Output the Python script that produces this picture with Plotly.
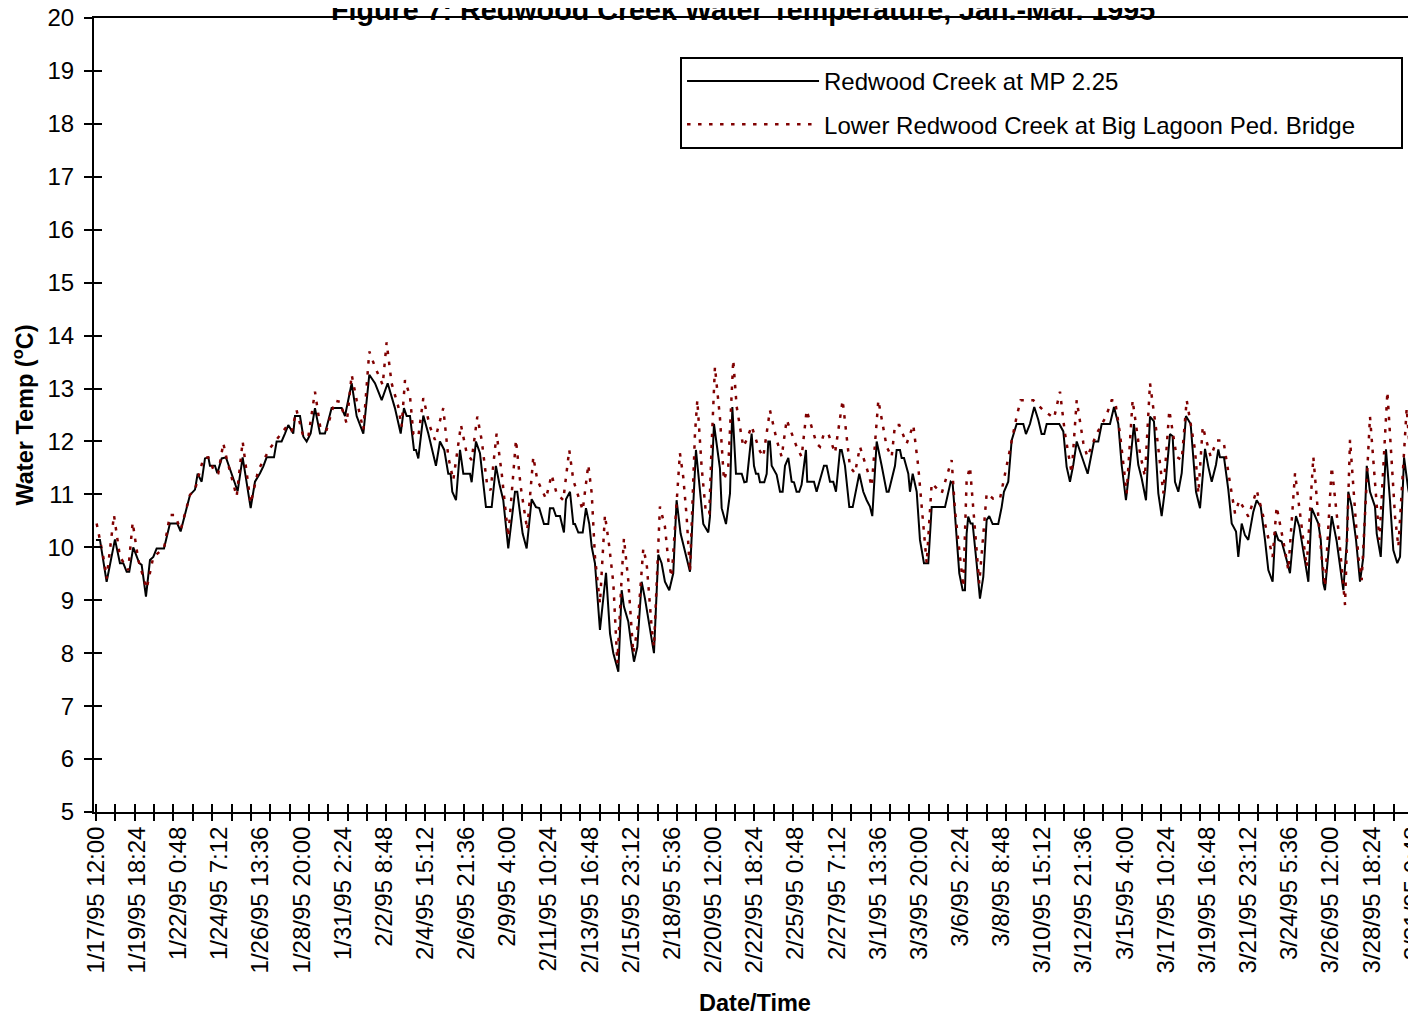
import pandas as pd
import plotly.graph_objects as go

START = pd.Timestamp("1995-01-17 12:00")

# Redwood Creek at MP 2.25 : elapsed hours since START, temperature (deg C)
mp_hours = [0, 5.3, 14.1, 25.1, 31.7, 36.1, 40.6, 44.0, 49.3, 57.2, 60.4, 66.1, 71.4, 75.8, 80.2, 89.9, 97.8, 107.5, 111.9, 124.3,
            130.9, 134.4, 139.7, 144.1, 148.5, 150.7, 157.3, 160.4, 166.2, 171.8, 187.3, 193.9, 204.5, 210.2, 216.8, 221.2, 225.6, 235.3, 238.8, 245.4,
            249.8, 254.2, 260.8, 263.1, 269.7, 274.1, 278.5, 283.8, 289.5, 296.1, 302.7, 311.5, 324.8, 329.2, 338.0, 344.6, 353.4, 361.3, 368.8, 377.7,
            385.6, 395.2, 402.8, 407.1, 410.7, 415.1, 420.4, 423.0, 426.1, 432.7, 439.3, 449.4, 454.7, 460.4, 465.7, 468.8, 471.0, 475.9, 481.2, 485.6,
            494.4, 496.6, 502.3, 507.6, 515.5, 523.1, 528.7, 533.1, 538.4, 545.0, 553.9, 556.9, 564.0, 569.3, 575.9, 581.6, 586.0, 589.2, 592.2, 597.9,
            600.1, 604.5, 608.1, 613.4, 618.6, 621.3, 626.6, 631.0, 633.2, 637.6, 643.4, 647.7, 652.1, 655.3, 659.6, 666.2, 674.2, 679.5, 683.9, 690.5,
            694.9, 697.9, 703.6, 706.8, 711.2, 715.6, 721.3, 725.7, 732.3, 737.6, 743.3, 747.7, 752.1, 757.8, 763.1, 767.5, 772.8, 779.9, 785.2, 793.1,
            798.4, 802.8, 809.4, 811.6, 816.9, 824.8, 827.1, 832.8, 838.1, 841.2, 846.0, 853.6, 857.0, 860.1, 866.7, 869.8, 872.4, 875.5, 877.7, 883.4,
            886.6, 888.7, 890.9, 893.2, 899.8, 904.2, 907.7, 910.8, 915.2, 919.6, 922.7, 926.1, 929.6, 932.7, 938.5, 940.2, 949.1, 952.6, 962.3, 965.9,
            970.3, 974.6, 978.2, 983.5, 985.7, 990.1, 995.8, 1000.3, 1009.0, 1014.3, 1018.8, 1023.1, 1026.2, 1032.0, 1038.6, 1045.2, 1047.8, 1056.2, 1058.4, 1062.8,
            1065.0, 1068.1, 1073.8, 1076.0, 1079.6, 1084.9, 1089.2, 1094.5, 1100.2, 1104.7, 1122.3, 1126.6, 1129.8, 1132.4, 1137.7, 1141.2, 1145.7, 1148.7, 1150.9, 1153.0,
            1156.2, 1158.8, 1164.1, 1168.5, 1172.9, 1177.4, 1180.8, 1185.3, 1192.7, 1197.2, 1200.2, 1205.9, 1210.4, 1217.0, 1221.4, 1225.8, 1229.3, 1234.6, 1240.3, 1245.6,
            1250.0, 1253.6, 1256.7, 1273.4, 1278.7, 1283.1, 1287.5, 1291.9, 1296.4, 1303.0, 1310.9, 1319.2, 1324.9, 1329.4, 1340.4, 1345.7, 1351.4, 1355.8, 1361.5, 1366.8,
            1372.1, 1377.8, 1382.3, 1388.0, 1393.3, 1398.5, 1404.3, 1408.7, 1413.1, 1419.7, 1423.2, 1426.3, 1430.7, 1435.2, 1440.8, 1447.0, 1454.1, 1459.4, 1466.0, 1470.4,
            1474.9, 1480.5, 1483.6, 1485.8, 1491.1, 1496.8, 1501.3, 1507.0, 1510.0, 1514.5, 1518.8, 1523.2, 1529.8, 1534.3, 1539.6, 1545.3, 1549.7, 1555.4, 1558.9, 1562.9,
            1567.3, 1573.9, 1578.3, 1582.7, 1586.3, 1590.7, 1596.0, 1602.6, 1607.0, 1615.8, 1619.0, 1622.4, 1624.6, 1629.0, 1633.5, 1640.1, 1644.4, 1648.8, 1653.3, 1655.4,
            1659.9, 1665.6, 1670.9, 1675.3, 1679.8, 1684.1, 1690.7, 1693.0, 1698.3, 1701.7, 1705.2, 1710.5, 1714.9, 1720.2, 1723.8, 1729.1, 1734.7, 1739.2, 1744.9]
mp_temp = [10.14, 10.14, 9.35, 10.15, 9.70, 9.70, 9.54, 9.54, 10.0, 9.70, 9.67, 9.07, 9.76, 9.82, 9.98, 9.98, 10.45, 10.45, 10.30, 10.99,
           11.09, 11.39, 11.24, 11.68, 11.70, 11.54, 11.54, 11.40, 11.68, 11.70, 11.06, 11.70, 10.74, 11.24, 11.40, 11.53, 11.70, 11.70, 12.0, 12.0,
           12.15, 12.31, 12.15, 12.48, 12.48, 12.09, 12.0, 12.15, 12.63, 12.15, 12.15, 12.63, 12.63, 12.48, 13.10, 12.48, 12.15, 13.26, 13.10, 12.78,
           13.10, 12.63, 12.15, 12.63, 12.48, 12.48, 11.84, 11.84, 11.68, 12.49, 12.15, 11.54, 12.0, 11.84, 11.39, 11.39, 11.05, 10.89, 11.84, 11.39,
           11.39, 11.23, 12.0, 11.78, 10.76, 10.76, 11.54, 11.21, 10.89, 9.98, 11.05, 11.05, 10.26, 9.98, 10.91, 10.76, 10.74, 10.59, 10.44, 10.44,
           10.74, 10.74, 10.59, 10.59, 10.28, 10.91, 11.05, 10.44, 10.44, 10.28, 10.28, 10.74, 10.44, 10.01, 9.70, 8.44, 9.52, 8.37, 8.00, 7.65,
           9.19, 8.88, 8.60, 8.25, 7.84, 8.12, 9.35, 9.03, 8.44, 8.00, 9.86, 9.70, 9.35, 9.19, 9.51, 10.89, 10.26, 9.82, 9.54, 11.84,
           11.05, 10.44, 10.28, 10.58, 12.33, 11.49, 10.74, 10.44, 11.02, 12.65, 11.39, 11.39, 11.23, 11.24, 12.15, 11.54, 11.39, 11.39, 11.23, 11.23,
           11.39, 12.0, 12.0, 11.54, 11.37, 11.05, 11.05, 11.54, 11.69, 11.24, 11.23, 11.05, 11.05, 11.18, 11.84, 11.24, 11.24, 11.05, 11.54, 11.54,
           11.24, 11.24, 11.05, 11.84, 11.84, 11.54, 10.76, 10.76, 11.39, 11.05, 10.89, 10.77, 10.59, 12.0, 11.54, 11.05, 11.05, 11.54, 11.84, 11.84,
           11.69, 11.69, 11.39, 11.05, 11.39, 11.05, 10.14, 9.70, 9.70, 10.76, 10.76, 11.05, 11.24, 11.21, 10.14, 9.51, 9.19, 9.19, 10.26, 10.58,
           10.45, 10.45, 9.70, 9.03, 9.44, 10.52, 10.59, 10.44, 10.44, 10.76, 11.05, 11.24, 12.02, 12.33, 12.33, 12.33, 12.14, 12.33, 12.65, 12.41,
           12.14, 12.14, 12.33, 12.33, 12.19, 11.52, 11.24, 11.56, 12.0, 11.71, 11.39, 12.0, 12.0, 12.33, 12.33, 12.65, 12.33, 11.56, 10.89, 11.56,
           12.33, 11.56, 11.30, 10.89, 12.47, 12.38, 11.02, 10.59, 11.09, 12.14, 12.10, 11.24, 11.05, 11.40, 12.48, 12.33, 11.05, 10.74, 11.86, 11.52,
           11.24, 11.56, 11.85, 11.70, 11.70, 11.09, 10.45, 10.30, 9.82, 10.45, 10.23, 10.14, 10.67, 10.89, 10.77, 10.14, 9.57, 9.35, 10.30, 10.14,
           10.11, 9.76, 9.51, 10.20, 10.59, 10.39, 9.95, 9.35, 10.74, 10.45, 10.14, 9.32, 9.19, 9.89, 10.59, 10.11, 9.70, 9.19, 10.07, 11.05,
           10.77, 10.14, 9.35, 9.82, 11.54, 11.05, 10.77, 10.26, 9.82, 10.89, 11.85, 10.89, 9.95, 9.70, 9.82, 11.70, 11.09, 10.77, 9.54]

# Lower Redwood Creek at Big Lagoon Ped. Bridge : elapsed hours since START, temperature (deg C)
lagoon_hours = [0.9, 9.7, 14.1, 23.8, 31.7, 42.7, 48.5, 55.9, 67.0, 75.8, 89.9, 97.8, 104.4, 111.9, 124.3, 130.9, 141.9, 148.5, 157.3, 161.7,
                168.3, 172.7, 186.0, 193.9, 204.5, 214.6, 230.0, 238.8, 252.0, 258.6, 265.2, 274.1, 280.7, 289.5, 297.0, 304.9, 315.9, 322.5, 331.4, 338.0,
                344.6, 353.4, 361.3, 368.8, 379.0, 384.2, 390.8, 399.6, 404.0, 408.5, 415.1, 419.5, 426.1, 432.7, 441.5, 448.1, 459.1, 465.7, 472.3, 482.5,
                490.0, 496.6, 504.1, 509.8, 517.3, 521.7, 529.6, 536.3, 545.0, 555.2, 561.4, 570.1, 578.1, 583.4, 594.8, 602.3, 608.9, 617.7, 625.6, 631.0,
                643.4, 650.8, 655.3, 659.6, 666.2, 672.8, 678.6, 683.9, 689.2, 694.9, 697.9, 703.6, 710.2, 715.6, 723.5, 727.9, 734.5, 737.6, 745.5, 752.1,
                756.5, 761.0, 767.5, 771.9, 776.3, 780.8, 785.2, 791.8, 794.9, 800.6, 806.3, 810.7, 813.9, 818.2, 824.8, 830.1, 835.8, 842.4, 846.9, 855.6,
                860.1, 866.7, 876.8, 882.1, 890.9, 899.8, 906.4, 913.0, 926.2, 932.8, 939.4, 952.6, 957.0, 962.3, 968.0, 976.9, 987.0, 996.7, 1003.3, 1009.9,
                1020.9, 1025.4, 1034.2, 1045.2, 1051.8, 1056.2, 1061.9, 1071.6, 1080.4, 1087.0, 1091.5, 1098.1, 1104.7, 1117.9, 1131.1, 1135.5, 1146.5, 1150.9, 1155.3, 1161.9,
                1167.6, 1177.4, 1186.1, 1195.0, 1206.0, 1217.0, 1222.3, 1239.0, 1252.3, 1266.4, 1274.3, 1280.9, 1289.7, 1296.4, 1305.2, 1310.5, 1322.8, 1335.1, 1342.6, 1347.0,
                1353.6, 1362.4, 1370.3, 1380.0, 1386.6, 1393.3, 1402.1, 1410.9, 1418.8, 1428.5, 1435.2, 1441.8, 1452.8, 1457.2, 1463.0, 1473.5, 1481.5, 1490.3, 1499.1, 1505.7,
                1511.4, 1523.3, 1534.3, 1543.1, 1555.4, 1560.7, 1571.7, 1576.1, 1585.0, 1593.8, 1600.4, 1609.2, 1620.2, 1624.6, 1633.5, 1642.3, 1651.1, 1657.7, 1668.7, 1673.1,
                1684.1, 1696.5, 1707.1, 1717.2, 1721.6, 1732.6, 1744.9]
lagoon_temp = [10.45, 9.82, 9.41, 10.61, 9.82, 9.57, 10.47, 9.76, 9.22, 9.82, 9.98, 10.61, 10.61, 10.33, 10.99, 11.09, 11.68, 11.70, 11.40, 11.40,
               11.97, 11.68, 10.96, 12.0, 10.83, 11.46, 11.87, 12.03, 12.28, 12.19, 12.59, 12.09, 12.09, 12.94, 12.22, 12.22, 12.77, 12.75, 12.34, 13.26,
               12.78, 12.22, 13.70, 13.41, 13.07, 13.87, 13.10, 12.66, 12.28, 13.16, 12.85, 12.15, 12.09, 12.82, 12.28, 12.03, 12.63, 11.71, 11.27, 12.31,
               11.78, 11.65, 12.47, 12.03, 11.15, 11.08, 12.15, 11.40, 10.20, 12.03, 11.15, 10.33, 11.71, 11.27, 10.92, 11.37, 11.02, 10.89, 11.84, 11.27,
               10.70, 11.56, 11.02, 9.82, 8.94, 10.61, 10.01, 9.32, 7.81, 9.44, 10.17, 9.38, 8.0, 8.44, 9.98, 9.70, 8.50, 8.12, 10.77, 10.39,
               9.76, 9.44, 10.89, 11.78, 11.33, 10.58, 9.54, 12.15, 12.78, 11.52, 10.64, 10.64, 11.96, 13.41, 12.45, 11.27, 11.52, 13.54, 12.66, 11.90,
               12.03, 12.29, 11.84, 11.71, 12.59, 12.03, 11.71, 12.41, 11.90, 11.71, 12.59, 11.96, 11.90, 12.15, 12.15, 11.78, 12.78, 11.52, 11.40, 11.90,
               11.40, 11.15, 12.78, 11.90, 11.71, 12.31, 12.31, 11.96, 12.31, 11.52, 10.77, 9.70, 11.21, 11.02, 11.65, 10.70, 9.25, 11.27, 11.52, 10.26,
               9.32, 11.02, 10.92, 10.92, 11.71, 12.47, 12.78, 12.78, 12.59, 12.44, 12.94, 12.15, 11.40, 12.78, 11.97, 11.71, 12.15, 12.47, 12.78, 12.78,
               12.15, 11.02, 12.78, 11.78, 11.34, 13.10, 12.15, 11.02, 12.59, 11.71, 11.65, 12.78, 11.84, 11.02, 12.28, 11.71, 12.02, 12.02, 11.21, 10.64,
               10.89, 10.58, 11.08, 10.58, 9.82, 10.77, 9.95, 9.57, 11.40, 10.33, 9.63, 11.71, 9.82, 9.26, 11.52, 10.33, 8.91, 12.03, 9.82, 9.38,
               12.47, 10.14, 12.94, 10.58, 10.01, 12.63, 10.20]

tick_labels = ["1/17/95 12:00", "1/19/95 18:24", "1/22/95 0:48", "1/24/95 7:12", "1/26/95 13:36", "1/28/95 20:00",
               "1/31/95 2:24", "2/2/95 8:48", "2/4/95 15:12", "2/6/95 21:36", "2/9/95 4:00", "2/11/95 10:24",
               "2/13/95 16:48", "2/15/95 23:12", "2/18/95 5:36", "2/20/95 12:00", "2/22/95 18:24", "2/25/95 0:48",
               "2/27/95 7:12", "3/1/95 13:36", "3/3/95 20:00", "3/6/95 2:24", "3/8/95 8:48", "3/10/95 15:12",
               "3/12/95 21:36", "3/15/95 4:00", "3/17/95 10:24", "3/19/95 16:48", "3/21/95 23:12", "3/24/95 5:36",
               "3/26/95 12:00", "3/28/95 18:24", "3/31/95 0:48"]

LABEL_STEP_H = 54.4   # every 34 readings of 1.6 h
TICK_STEP_H = 25.6    # every 16 readings of 1.6 h


def to_time(hours):
    return [(START + pd.Timedelta(hours=h)).strftime("%Y-%m-%d %H:%M:%S") for h in hours]


label_vals = to_time([i * LABEL_STEP_H for i in range(len(tick_labels))])
tick_vals = to_time([i * TICK_STEP_H for i in range(69)])
x_range = to_time([-2.6, 1744.9])

FONT = "Liberation Sans, Arial, sans-serif"
PAD = "\u00a0" * 6  # widens the legend frame like the original

fig = go.Figure()
fig.add_trace(go.Scatter(x=to_time(mp_hours), y=mp_temp, mode="lines",
                         name="Redwood Creek at MP 2.25", legendgroup="a",
                         line=dict(color="black", width=2), xaxis="x", yaxis="y"))
fig.add_trace(go.Scatter(x=to_time(lagoon_hours), y=lagoon_temp, mode="lines",
                         name="Lower Redwood Creek at Big Lagoon Ped. Bridge" + PAD, legendgroup="b",
                         line=dict(color="#800000", width=2.5, dash="3.5px,7.5px"), xaxis="x2", yaxis="y2"))

fig.update_layout(
    width=1408, height=1008,
    margin=dict(l=86, r=0, t=10, b=204),
    paper_bgcolor="white", plot_bgcolor="white",
    font=dict(family=FONT, size=24, color="black"),
    showlegend=True,
    legend=dict(x=0.4433, y=0.9509, xanchor="left", yanchor="top",
                bordercolor="black", borderwidth=2, bgcolor="white",
                font=dict(family=FONT, size=24, color="black"),
                itemwidth=132, tracegroupgap=9),
    xaxis=dict(type="date", range=x_range, tickmode="array", tickvals=label_vals, ticktext=tick_labels,
               tickangle=-90, ticks="", showline=True, linecolor="black", linewidth=2, mirror=True,
               showgrid=False, zeroline=False, automargin=False, ticklabelstandoff=3,
               ticklabeloverflow="allow",
               tickfont=dict(family=FONT, size=24, color="black"),
               minor=dict(tickmode="array", tickvals=tick_vals, ticks="inside", ticklen=8, tickwidth=2,
                          tickcolor="black", showgrid=False),
               title=dict(text="Date/Time", standoff=22,
                          font=dict(family=FONT, size=23.5, color="black", weight="bold"))),
    xaxis2=dict(type="date", overlaying="x", matches="x", anchor="y", side="bottom", range=x_range,
                tickmode="array", tickvals=tick_vals, ticks="outside", ticklen=8, tickwidth=2, tickcolor="black",
                showticklabels=False, showline=False, showgrid=False, zeroline=False, automargin=False),
    yaxis=dict(range=[5, 20], tickmode="linear", tick0=5, dtick=1, ticks="outside", ticklen=8, tickwidth=2,
               tickcolor="black", showline=True, linecolor="black", linewidth=2, showgrid=False,
               zeroline=False, automargin=False, ticklabelstandoff=5, ticklabeloverflow="allow",
               tickfont=dict(family=FONT, size=24, color="black"),
               title=dict(text="Water Temp (<sup>o</sup>C)", standoff=10,
                          font=dict(family=FONT, size=23.5, color="black", weight="bold"))),
    yaxis2=dict(range=[5, 20], overlaying="y", anchor="x", side="left", tickmode="linear", tick0=5, dtick=1,
                ticks="inside", ticklen=8, tickwidth=2, tickcolor="black", showticklabels=False,
                showline=False, showgrid=False, zeroline=False, automargin=False),
    annotations=[dict(text="Figure 7: Redwood Creek Water Temperature, Jan.-Mar. 1995",
                      xref="paper", yref="paper", x=0.491, y=1, xanchor="center", yanchor="bottom",
                      yshift=-10, showarrow=False,
                      font=dict(family=FONT, size=28.7, color="black", weight="bold"))],
)

fig.write_html("out.html")
